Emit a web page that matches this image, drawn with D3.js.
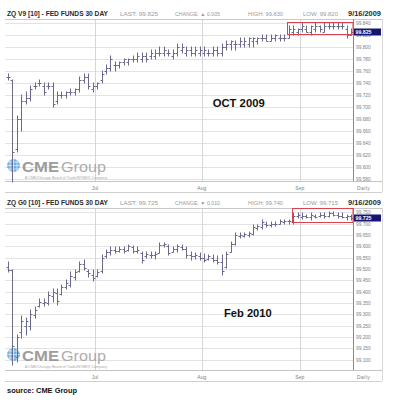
<!DOCTYPE html>
<html>
<head>
<meta charset="utf-8">
<style>
  body { margin:0; background:#fff; }
  svg { display:block; font-family: Arial, "Liberation Sans", sans-serif; }
</style>
</head>
<body>
<script src="https://cdn.jsdelivr.net/npm/d3@7"></script>
<script>
// month boundaries: index of the first bar of each month
var monthLabels = ["Jul", "Aug", "Sep"],
    monthStarts = [20, 44, 66];

var octTicks = [99.58, 99.60, 99.62, 99.64, 99.66, 99.68, 99.70, 99.72, 99.74, 99.76, 99.78, 99.80, 99.82, 99.84];
var febTicks = [99.10, 99.15, 99.20, 99.25, 99.30, 99.35, 99.40, 99.45, 99.50, 99.55, 99.60, 99.65, 99.70, 99.75];

var octInfo = ["ZQ V9 [10] - FED FUNDS 30 DAY", "LAST: 99.825", "CHANGE: \u25B2 0.005", "HIGH: 99.830", "LOW: 99.820", "9/16/2009"];
var febInfo = ["ZQ G0 [10] - FED FUNDS 30 DAY", "LAST: 99.725", "CHANGE: \u25BC 0.010", "HIGH: 99.740", "LOW: 99.715", "9/16/2009"];

var octLast = 99.825, febLast = 99.725;

// red box drawn on the chart: [first bar index, low, high]
var octBox = [62.57, 99.82, 99.84],
    febBox = [63.82, 99.70, 99.7625];

// [open, high, low, close]
var octBars = [
  [99.750, 99.755, 99.745, 99.750], [99.745, 99.745, 99.575, 99.625], [99.630, 99.685, 99.625, 99.680],
  [99.680, 99.720, 99.660, 99.710], [99.710, 99.725, 99.705, 99.715], [99.715, 99.735, 99.710, 99.730],
  [99.735, 99.740, 99.730, 99.735], [99.740, 99.745, 99.735, 99.740], [99.735, 99.740, 99.720, 99.725],
  [99.735, 99.740, 99.730, 99.735], [99.735, 99.740, 99.700, 99.705], [99.710, 99.725, 99.705, 99.720],
  [99.720, 99.725, 99.715, 99.720], [99.720, 99.725, 99.715, 99.725], [99.725, 99.730, 99.720, 99.725],
  [99.725, 99.730, 99.720, 99.730], [99.730, 99.750, 99.725, 99.745], [99.745, 99.755, 99.740, 99.750],
  [99.750, 99.755, 99.730, 99.735], [99.730, 99.740, 99.725, 99.735], [99.735, 99.740, 99.730, 99.740],
  [99.745, 99.760, 99.740, 99.755], [99.760, 99.770, 99.755, 99.765], [99.765, 99.785, 99.760, 99.780],
  [99.770, 99.775, 99.760, 99.770], [99.770, 99.775, 99.765, 99.775], [99.775, 99.780, 99.770, 99.780],
  [99.775, 99.780, 99.770, 99.780], [99.780, 99.785, 99.775, 99.780], [99.780, 99.790, 99.775, 99.785],
  [99.780, 99.790, 99.775, 99.785], [99.785, 99.790, 99.775, 99.780], [99.785, 99.795, 99.780, 99.790],
  [99.785, 99.795, 99.780, 99.790], [99.790, 99.800, 99.785, 99.790], [99.790, 99.800, 99.785, 99.795],
  [99.790, 99.795, 99.785, 99.790], [99.785, 99.795, 99.780, 99.790], [99.790, 99.805, 99.785, 99.800],
  [99.795, 99.805, 99.790, 99.800], [99.790, 99.800, 99.785, 99.795], [99.795, 99.800, 99.785, 99.790],
  [99.790, 99.800, 99.785, 99.795], [99.790, 99.800, 99.785, 99.795], [99.790, 99.800, 99.785, 99.795],
  [99.790, 99.795, 99.785, 99.790], [99.790, 99.800, 99.785, 99.795], [99.795, 99.800, 99.785, 99.790],
  [99.790, 99.805, 99.785, 99.800], [99.800, 99.810, 99.795, 99.805], [99.805, 99.810, 99.795, 99.810],
  [99.805, 99.810, 99.795, 99.805], [99.805, 99.815, 99.800, 99.810], [99.805, 99.815, 99.800, 99.810],
  [99.805, 99.815, 99.800, 99.815], [99.810, 99.815, 99.800, 99.815], [99.810, 99.815, 99.805, 99.815],
  [99.815, 99.820, 99.810, 99.815], [99.815, 99.820, 99.810, 99.810], [99.810, 99.820, 99.810, 99.815],
  [99.815, 99.820, 99.810, 99.820], [99.815, 99.820, 99.810, 99.815], [99.815, 99.820, 99.810, 99.815],
  [99.815, 99.835, 99.815, 99.830], [99.825, 99.835, 99.820, 99.830], [99.825, 99.830, 99.820, 99.830],
  [99.830, 99.840, 99.825, 99.835], [99.830, 99.835, 99.825, 99.825], [99.825, 99.835, 99.820, 99.835],
  [99.830, 99.840, 99.825, 99.835], [99.835, 99.835, 99.825, 99.830], [99.825, 99.840, 99.825, 99.835],
  [99.835, 99.840, 99.830, 99.835], [99.835, 99.840, 99.830, 99.835], [99.835, 99.840, 99.830, 99.835],
  [99.835, 99.840, 99.830, 99.835], [99.830, 99.835, 99.815, 99.820], [99.820, 99.830, 99.820, 99.825]
];

var febBars = [
  [99.510, 99.530, 99.485, 99.495], [99.495, 99.495, 99.075, 99.160], [99.110, 99.210, 99.090, 99.200],
  [99.220, 99.290, 99.195, 99.270], [99.250, 99.285, 99.210, 99.270], [99.250, 99.320, 99.230, 99.300],
  [99.295, 99.330, 99.285, 99.320], [99.335, 99.365, 99.330, 99.355], [99.350, 99.365, 99.335, 99.355],
  [99.350, 99.400, 99.340, 99.385], [99.380, 99.410, 99.355, 99.400], [99.395, 99.410, 99.340, 99.360],
  [99.390, 99.430, 99.385, 99.420], [99.420, 99.450, 99.410, 99.440], [99.430, 99.485, 99.420, 99.470],
  [99.465, 99.495, 99.450, 99.485], [99.490, 99.530, 99.485, 99.520], [99.520, 99.540, 99.495, 99.505],
  [99.490, 99.495, 99.465, 99.480], [99.475, 99.495, 99.445, 99.460], [99.470, 99.495, 99.465, 99.485],
  [99.490, 99.560, 99.480, 99.550], [99.555, 99.585, 99.550, 99.575], [99.575, 99.595, 99.560, 99.585],
  [99.585, 99.595, 99.570, 99.580], [99.580, 99.595, 99.575, 99.590], [99.590, 99.595, 99.570, 99.580],
  [99.585, 99.605, 99.580, 99.600], [99.595, 99.600, 99.570, 99.580], [99.580, 99.595, 99.570, 99.585],
  [99.570, 99.575, 99.525, 99.540], [99.555, 99.575, 99.550, 99.565], [99.560, 99.575, 99.550, 99.560],
  [99.560, 99.575, 99.545, 99.565], [99.570, 99.615, 99.570, 99.605], [99.605, 99.615, 99.595, 99.610],
  [99.600, 99.605, 99.560, 99.570], [99.575, 99.595, 99.575, 99.590], [99.590, 99.605, 99.575, 99.600],
  [99.595, 99.605, 99.585, 99.590], [99.590, 99.595, 99.550, 99.560], [99.560, 99.575, 99.540, 99.555],
  [99.555, 99.570, 99.545, 99.560], [99.555, 99.570, 99.540, 99.550], [99.550, 99.565, 99.530, 99.540],
  [99.545, 99.560, 99.540, 99.555], [99.550, 99.560, 99.530, 99.540], [99.540, 99.555, 99.520, 99.530],
  [99.530, 99.560, 99.475, 99.490], [99.510, 99.575, 99.505, 99.565], [99.575, 99.620, 99.575, 99.610],
  [99.610, 99.660, 99.605, 99.650], [99.645, 99.660, 99.635, 99.650], [99.645, 99.660, 99.640, 99.655],
  [99.650, 99.665, 99.640, 99.660], [99.655, 99.695, 99.650, 99.685], [99.680, 99.695, 99.670, 99.690],
  [99.685, 99.715, 99.675, 99.705], [99.700, 99.705, 99.685, 99.695], [99.695, 99.705, 99.685, 99.700],
  [99.700, 99.705, 99.690, 99.700], [99.700, 99.715, 99.700, 99.710], [99.705, 99.715, 99.700, 99.710],
  [99.710, 99.715, 99.700, 99.710], [99.705, 99.745, 99.700, 99.735], [99.735, 99.745, 99.725, 99.740],
  [99.730, 99.745, 99.720, 99.735], [99.735, 99.740, 99.725, 99.730], [99.730, 99.745, 99.715, 99.740],
  [99.735, 99.740, 99.725, 99.730], [99.735, 99.745, 99.730, 99.740], [99.740, 99.745, 99.725, 99.735],
  [99.735, 99.750, 99.730, 99.745], [99.745, 99.750, 99.735, 99.740], [99.740, 99.745, 99.725, 99.735],
  [99.735, 99.745, 99.725, 99.730], [99.730, 99.740, 99.715, 99.735], [99.735, 99.740, 99.715, 99.725]
];

var svg = d3.select("body").append("svg")
        .attr("width", 394)
        .attr("height", 400);

var plot = {"left":5, "right":353, "top":19, "bottom":181, "edge":382, "foot":192};

var xScale = d3.scaleLinear()
        .domain([0, octBars.length - 1])
        .range([8, 351]);

function px(v) { return Math.round(v) + 0.5; }

function drawChart(offset, cfg) {
    var g = svg.append("g").attr("transform", "translate(0," + offset + ")");

    var yScale = d3.scaleLinear()
            .domain(cfg.domain)
            .range([plot.bottom, plot.top]);

    // header
    var hdr = [
        {x:7, w:101, size:6.6, weight:"bold", fill:"#2a2a2a"},
        {x:120, w:38, size:5, weight:"normal", fill:"#9a9a9a"},
        {x:175, w:45, size:5, weight:"normal", fill:"#9a9a9a"},
        {x:248, w:35, size:5, weight:"normal", fill:"#9a9a9a"},
        {x:303, w:35, size:5, weight:"normal", fill:"#9a9a9a"},
        {x:348, w:33, size:8, weight:"bold", fill:"#2a2a2a"}
    ];
    g.selectAll(".hdr")
            .data(cfg.info)
            .enter()
            .append("text")
            .attr("class", "hdr")
            .attr("x", function(d, i) { return hdr[i].x; })
            .attr("y", 16)
            .attr("textLength", function(d, i) { return hdr[i].w; })
            .attr("lengthAdjust", "spacingAndGlyphs")
            .attr("font-size", function(d, i) { return hdr[i].size; })
            .attr("font-weight", function(d, i) { return hdr[i].weight; })
            .attr("fill", function(d, i) { return hdr[i].fill; })
            .text(function(d) { return d; });

    // grid
    g.selectAll(".hgrid")
            .data(cfg.ticks)
            .enter()
            .append("line")
            .attr("x1", plot.left).attr("x2", plot.right)
            .attr("y1", function(d) { return px(yScale(d)); })
            .attr("y2", function(d) { return px(yScale(d)); })
            .attr("stroke", "#e3e3e3");

    g.selectAll(".vgrid")
            .data(monthStarts)
            .enter()
            .append("line")
            .attr("x1", function(d) { return px(xScale(d - 0.5)); })
            .attr("x2", function(d) { return px(xScale(d - 0.5)); })
            .attr("y1", plot.top).attr("y2", plot.bottom)
            .attr("stroke", "#d6d6d6");

    // frame lines
    g.append("line").attr("x1", plot.left).attr("x2", plot.edge).attr("y1", plot.top + 0.5).attr("y2", plot.top + 0.5).attr("stroke", "#c8c8c8");
    g.append("line").attr("x1", plot.left).attr("x2", plot.edge).attr("y1", plot.bottom + 0.5).attr("y2", plot.bottom + 0.5).attr("stroke", "#c4c4c4");
    g.append("line").attr("x1", plot.left).attr("x2", plot.edge).attr("y1", plot.foot + 0.5).attr("y2", plot.foot + 0.5).attr("stroke", "#d0d0d0");
    g.append("line").attr("x1", plot.edge + 0.5).attr("x2", plot.edge + 0.5).attr("y1", plot.top).attr("y2", plot.foot).attr("stroke", "#d8d8d8");
    g.append("line").attr("x1", plot.right + 0.5).attr("x2", plot.right + 0.5).attr("y1", plot.top).attr("y2", plot.bottom).attr("stroke", "#8a8a8a");

    // logo
    var logo = g.append("g").attr("opacity", 0.85);
    logo.append("circle").attr("cx", 13.5).attr("cy", 165.5).attr("r", 6.5).attr("fill", "#5aa2dc");
    [-3.5, 0, 3.5].forEach(function(o) {
        logo.append("line").attr("x1", 7).attr("x2", 20).attr("y1", 165.5 + o).attr("y2", 165.5 + o)
                .attr("stroke", "#ffffff").attr("stroke-width", 0.6);
        logo.append("line").attr("x1", 13.5 + o).attr("x2", 13.5 + o).attr("y1", 159).attr("y2", 172)
                .attr("stroke", "#ffffff").attr("stroke-width", 0.6);
    });
    logo.append("text").attr("x", 22).attr("y", 171.5).attr("font-size", 14.5).attr("font-weight", "bold")
            .attr("textLength", 37).attr("lengthAdjust", "spacingAndGlyphs").attr("fill", "#8c8c8c").text("CME");
    logo.append("text").attr("x", 61).attr("y", 171.5).attr("font-size", 14.5)
            .attr("textLength", 45).attr("lengthAdjust", "spacingAndGlyphs").attr("fill", "#a0a0a0").text("Group");
    logo.append("text").attr("x", 25).attr("y", 178.5).attr("font-size", 3.3)
            .attr("textLength", 82).attr("lengthAdjust", "spacingAndGlyphs").attr("fill", "#9a9a9a")
            .text("A CME/Chicago Board of Trade/NYMEX Company");

    // big label
    g.append("text")
            .attr("x", cfg.label[1]).attr("y", cfg.label[2])
            .attr("font-size", 11.5).attr("font-weight", "bold")
            .attr("textLength", cfg.label[3]).attr("lengthAdjust", "spacingAndGlyphs")
            .attr("fill", "#111")
            .text(cfg.label[0]);

    // OHLC bars
    var bar = g.selectAll(".bar")
            .data(cfg.bars)
            .enter()
            .append("g")
            .attr("class", "bar")
            .attr("transform", function(d, i) { return "translate(" + px(xScale(i)) + ",0)"; })
            .attr("stroke", "#6a6a8c")
            .attr("stroke-width", 1);

    bar.append("line")
            .attr("x1", 0).attr("x2", 0)
            .attr("y1", function(d) { return Math.round(yScale(d[1])) - 0.5; })
            .attr("y2", function(d) { return Math.round(yScale(d[2])) + 0.5; });
    bar.append("line")
            .attr("x1", -2).attr("x2", 0)
            .attr("y1", function(d) { return px(yScale(d[0])); })
            .attr("y2", function(d) { return px(yScale(d[0])); });
    bar.append("line")
            .attr("x1", 0).attr("x2", 2)
            .attr("y1", function(d) { return px(yScale(d[3])); })
            .attr("y2", function(d) { return px(yScale(d[3])); });

    // annotation box
    g.append("rect")
            .attr("x", px(xScale(cfg.box[0])))
            .attr("y", Math.round(yScale(cfg.box[2])) - 0.5)
            .attr("width", plot.right - px(xScale(cfg.box[0])))
            .attr("height", Math.round(yScale(cfg.box[1]) - yScale(cfg.box[2])))
            .attr("fill", "none")
            .attr("stroke", "#d9424f")
            .attr("stroke-width", 1);

    // right axis
    g.append("g")
            .attr("transform", "translate(" + plot.right + ",0)")
            .call(d3.axisRight(yScale).tickValues(cfg.ticks).tickSize(0).tickPadding(3).tickFormat(d3.format(".3f")))
            .call(function(a) { a.select(".domain").remove(); })
            .attr("font-size", 4.8)
            .attr("font-family", "Arial, 'Liberation Sans', sans-serif")
            .selectAll("text")
            .attr("fill", "#808080");

    // last price tag
    g.append("rect")
            .attr("x", plot.right + 1)
            .attr("y", Math.round(yScale(cfg.last)) - 3.5)
            .attr("width", 27)
            .attr("height", 7)
            .attr("fill", "#161670");
    g.append("text")
            .attr("x", plot.right + 2.5)
            .attr("y", Math.round(yScale(cfg.last)) + 2.2)
            .attr("font-size", 6.2)
            .attr("font-weight", "bold")
            .attr("textLength", 16)
            .attr("lengthAdjust", "spacingAndGlyphs")
            .attr("fill", "#ffffff")
            .text(d3.format(".3f")(cfg.last));

    // month labels
    g.selectAll(".month")
            .data(monthLabels)
            .enter()
            .append("text")
            .attr("x", function(d, i) { return xScale(monthStarts[i] - 0.5); })
            .attr("y", 189.5)
            .attr("text-anchor", "middle")
            .attr("font-size", 5)
            .attr("fill", "#808080")
            .text(function(d) { return d; });
    g.append("text")
            .attr("x", 363.5).attr("y", 189.5)
            .attr("text-anchor", "middle")
            .attr("font-size", 5)
            .attr("letter-spacing", 0.4)
            .attr("fill", "#808080")
            .text("Daily");
}

drawChart(0, {info:octInfo, bars:octBars, ticks:octTicks, domain:[99.5762, 99.8462], last:octLast, box:octBox, label:["OCT 2009", 212.7, 106.5, 52]});
drawChart(189, {info:febInfo, bars:febBars, ticks:febTicks, domain:[99.0537, 99.769], last:febLast, box:febBox, label:["Feb 2010", 224, 127.7, 47.7]});

svg.append("text")
        .attr("x", 7)
        .attr("y", 393.3)
        .attr("font-size", 7.6)
        .attr("font-weight", "bold")
        .attr("textLength", 70)
        .attr("lengthAdjust", "spacingAndGlyphs")
        .attr("fill", "#111")
        .text("source: CME Group");
</script>
</body>
</html>
